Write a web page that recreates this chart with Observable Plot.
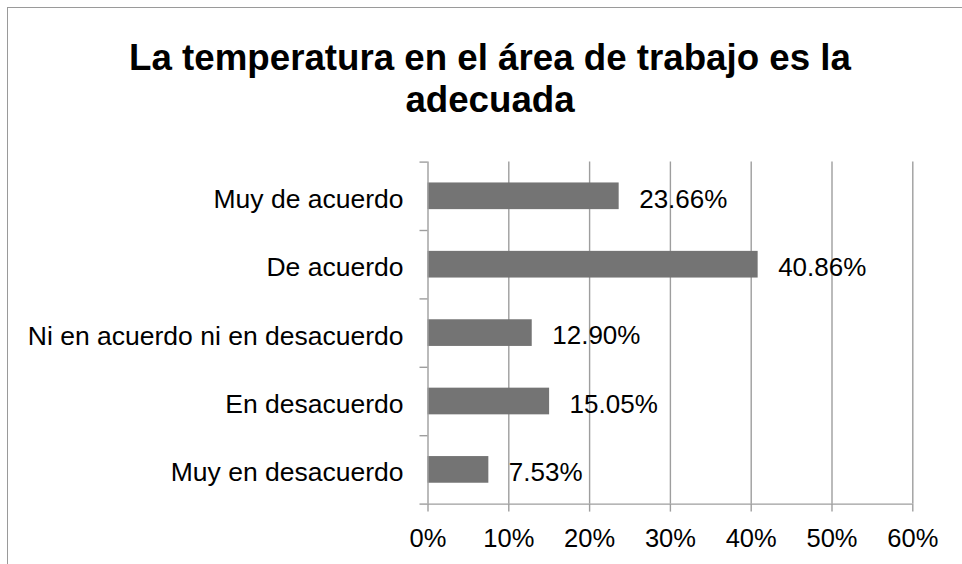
<!DOCTYPE html>
<html><head><meta charset="utf-8">
<script src="https://cdn.jsdelivr.net/npm/d3@7"></script>
<script src="https://cdn.jsdelivr.net/npm/@observablehq/plot@0.6"></script>
<style>
html,body{margin:0;padding:0;background:#fff;overflow:hidden;width:962px;height:564px;}
#frame{position:absolute;left:6.5px;top:6.5px;width:1000px;height:600px;border-left:1.5px solid #9a9a9a;border-top:1.5px solid #9a9a9a;box-sizing:border-box;}
#title{position:absolute;left:0;top:37px;width:980px;text-align:center;font-family:"Liberation Sans",Arial,sans-serif;font-weight:bold;font-size:36.7px;line-height:42px;color:#000;}
#chart{position:absolute;left:0;top:150px;}
</style></head><body>
<div id="frame"></div>
<div id="title">La temperatura en el área de trabajo es la<br>adecuada</div>
<div id="chart"></div>
<script>
const categories = ["Muy de acuerdo", "De acuerdo", "Ni en acuerdo ni en desacuerdo", "En desacuerdo", "Muy en desacuerdo"];
const values = [23.66, 40.86, 12.90, 15.05, 7.53];
const xTicks = [0, 10, 20, 30, 40, 50, 60];
const xTickLabels = ["0%", "10%", "20%", "30%", "40%", "50%", "60%"];
const bandEdges = [0, 1, 2, 3, 4, 5];

const data = categories.map((c, i) => ({cat: c, value: values[i], i}));
const gray = "#9e9e9e";
const font = "'Liberation Sans', Arial, sans-serif";
const pad = 0.305;

const chart = Plot.plot({
  width: 962,
  height: 414,
  marginTop: 11.6,
  marginBottom: 60.4,
  marginLeft: 427.5,
  marginRight: 49.7,
  style: {fontFamily: font, fontSize: "26px", color: "#000", background: "transparent"},
  x: {domain: [0, 60]},
  y: {domain: [0, 5], reverse: true},
  marks: [
    Plot.ruleX(xTicks.filter(t => t > 0), {stroke: gray, strokeWidth: 1.4}),
    Plot.rect(data, {x1: d => 0, x2: "value", y1: d => d.i + pad, y2: d => d.i + 1 - pad, fill: "#747474"}),
    Plot.ruleX([0], {stroke: gray, strokeWidth: 1.4}),
    Plot.ruleY([5], {stroke: gray, strokeWidth: 1.4}),
    Plot.axisY({ticks: bandEdges, tickSize: 8, tickFormat: () => "", stroke: gray, strokeWidth: 1.4, label: null}),
    Plot.axisX({ticks: xTicks, tickSize: 8, tickPadding: 17, tickFormat: (d) => xTickLabels[xTicks.indexOf(d)], stroke: gray, strokeWidth: 1.4, fill: "#000", fontSize: 25.5, label: null}),
    Plot.text(data, {x: d => 0, y: d => d.i + 0.5, text: "cat", textAnchor: "end", dx: -24.5, dy: 3, fontSize: 26.5, fill: "#000"}),
    Plot.text(data, {x: "value", y: d => d.i + 0.5, text: d => d.value.toFixed(2) + "%", textAnchor: "start", dx: 20, dy: 3, fontSize: 26, fill: "#000"})
  ]
});
document.getElementById("chart").appendChild(chart);
</script>
</body></html>
